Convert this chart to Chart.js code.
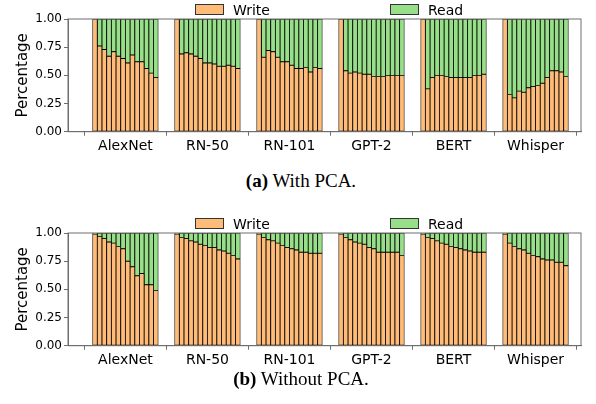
<!DOCTYPE html>
<html><head><meta charset="utf-8">
<script src="https://cdn.jsdelivr.net/npm/chart.js@4.4.1/dist/chart.umd.min.js"></script>
<style>
html,body{margin:0;padding:0;background:#fff;}
#wrap{position:relative;width:596px;height:404px;overflow:hidden;}
canvas{position:absolute;left:0;}
.patch{position:absolute;width:27px;height:9px;border:1px solid #333;}
.ltxt{position:absolute;font-family:"DejaVu Sans";font-size:14px;line-height:16px;color:#000;}
.cap{position:absolute;left:0;width:602px;text-align:center;font-family:"Liberation Serif";font-size:19px;line-height:22px;color:#000;}
</style></head><body>
<div id="wrap">
<canvas id="c1" width="596" height="162" style="top:0"></canvas>
<canvas id="c2" width="596" height="162" style="top:214px"></canvas>

<div class="patch" style="left:195px;top:4px;background:#ffbb78"></div>
<div class="ltxt" style="left:233px;top:2px">Write</div>
<div class="patch" style="left:390px;top:4px;background:#98df8a"></div>
<div class="ltxt" style="left:428px;top:2px">Read</div>

<div class="patch" style="left:195px;top:218px;background:#ffbb78"></div>
<div class="ltxt" style="left:233px;top:216px">Write</div>
<div class="patch" style="left:390px;top:218px;background:#98df8a"></div>
<div class="ltxt" style="left:428px;top:216px">Read</div>

<div class="cap" style="top:170px"><b>(a)</b> With PCA.</div>
<div class="cap" style="top:368px"><b>(b)</b> Without PCA.</div>
</div>
<script>
const CATEGORIES = ['AlexNet', 'RN-50', 'RN-101', 'GPT-2', 'BERT', 'Whisper'];
const SERIES = ['Write', 'Read'];
const Y_TICKS = [0, 0.25, 0.5, 0.75, 1.0];

// Write share per bar (14 bars per model), with PCA
const WRITE_WITH_PCA = [
  [1.00, 0.76, 0.73, 0.67, 0.71, 0.67, 0.65, 0.61, 0.68, 0.62, 0.62, 0.56, 0.52, 0.48],
  [1.00, 0.69, 0.70, 0.69, 0.67, 0.65, 0.61, 0.61, 0.60, 0.58, 0.58, 0.59, 0.58, 0.56],
  [1.00, 0.66, 0.72, 0.71, 0.66, 0.62, 0.62, 0.59, 0.56, 0.56, 0.57, 0.53, 0.57, 0.56],
  [1.00, 0.54, 0.52, 0.53, 0.52, 0.51, 0.51, 0.49, 0.49, 0.49, 0.50, 0.50, 0.50, 0.50],
  [1.00, 0.38, 0.48, 0.50, 0.50, 0.49, 0.48, 0.48, 0.48, 0.48, 0.48, 0.50, 0.50, 0.51],
  [1.00, 0.33, 0.30, 0.36, 0.35, 0.39, 0.40, 0.41, 0.43, 0.48, 0.54, 0.54, 0.53, 0.49]
];
// Write share per bar, without PCA
const WRITE_WITHOUT_PCA = [
  [0.99, 0.97, 0.95, 0.92, 0.91, 0.88, 0.86, 0.75, 0.70, 0.62, 0.64, 0.54, 0.54, 0.49],
  [0.99, 0.96, 0.95, 0.93, 0.92, 0.90, 0.89, 0.87, 0.87, 0.85, 0.84, 0.82, 0.80, 0.77],
  [0.99, 0.96, 0.94, 0.93, 0.91, 0.89, 0.87, 0.86, 0.85, 0.83, 0.83, 0.82, 0.82, 0.82],
  [0.99, 0.96, 0.94, 0.92, 0.91, 0.90, 0.87, 0.86, 0.83, 0.83, 0.83, 0.83, 0.83, 0.80],
  [0.99, 0.96, 0.95, 0.93, 0.91, 0.90, 0.88, 0.87, 0.86, 0.85, 0.84, 0.83, 0.83, 0.83],
  [0.99, 0.91, 0.88, 0.86, 0.85, 0.82, 0.80, 0.79, 0.77, 0.76, 0.76, 0.74, 0.74, 0.71]
];

const COLORS = ['#ffbb78', '#98df8a'];
const AXIS_GRAY = '#6e6e6e';
const BARS = 14;
const PITCH = 17.5;          // group spacing in bar units
const X_MIN = -5.75, X_MAX = (CATEGORIES.length - 1) * PITCH + (BARS - 1) + 3.2;

const framePlugin = {
  id: 'frame',
  afterDraw(chart) {
    const {ctx, chartArea: a} = chart;
    ctx.save();
    ctx.strokeStyle = AXIS_GRAY;
    ctx.lineWidth = 1;
    ctx.strokeRect(a.left, a.top, a.right - a.left, a.bottom - a.top);
    ctx.restore();
  }
};

function makeChart(id, writeGroups) {
  const write = [], read = [];
  writeGroups.forEach((grp, g) => grp.forEach((w, i) => {
    const x = g * PITCH + i;
    write.push({x, y: w});
    read.push({x, y: 1 - w});
  }));
  const ds = (label, data, color) => ({
    label, data, backgroundColor: color, borderColor: '#000', borderWidth: 0.8,
    borderSkipped: false, barPercentage: 1, categoryPercentage: 1
  });
  return new Chart(document.getElementById(id), {
    type: 'bar',
    data: { datasets: [ds(SERIES[0], write, COLORS[0]), ds(SERIES[1], read, COLORS[1])] },
    options: {
      responsive: false, animation: false, devicePixelRatio: 1,
      layout: { padding: { left: 10, right: 15, top: 19, bottom: 0 } },
      plugins: { legend: { display: false }, tooltip: { enabled: false } },
      scales: {
        x: {
          type: 'linear', stacked: true, min: X_MIN, max: X_MAX, offset: false,
          grid: { drawOnChartArea: false, drawTicks: true, tickLength: 4, color: AXIS_GRAY },
          border: { display: true, color: AXIS_GRAY },
          afterBuildTicks: s => { s.ticks = CATEGORIES.map((c, g) => ({ value: g * PITCH + (BARS - 1) / 2 })); },
          afterFit: s => { s.height = 30.3; },
          ticks: {
            autoSkip: false, maxRotation: 0, minRotation: 0, padding: 2, color: '#000',
            font: { family: 'DejaVu Sans', size: 14 },
            callback: (v, i) => CATEGORIES[i]
          }
        },
        y: {
          stacked: true, min: 0, max: 1,
          grid: { drawOnChartArea: false, drawTicks: true, tickLength: 4, color: AXIS_GRAY },
          border: { display: true, color: AXIS_GRAY },
          afterBuildTicks: s => { s.ticks = Y_TICKS.map(v => ({ value: v })); },
          afterFit: s => { s.width = 58; },
          ticks: {
            padding: 2, color: '#000', font: { family: 'DejaVu Sans', size: 12 },
            callback: v => Number(v).toFixed(2)
          },
          title: {
            display: true, text: 'Percentage', color: '#000',
            font: { family: 'DejaVu Sans', size: 15 }, padding: { top: 4, bottom: 0 }
          }
        }
      }
    },
    plugins: [framePlugin]
  });
}

makeChart('c1', WRITE_WITH_PCA);
makeChart('c2', WRITE_WITHOUT_PCA);
</script>
</body></html>
